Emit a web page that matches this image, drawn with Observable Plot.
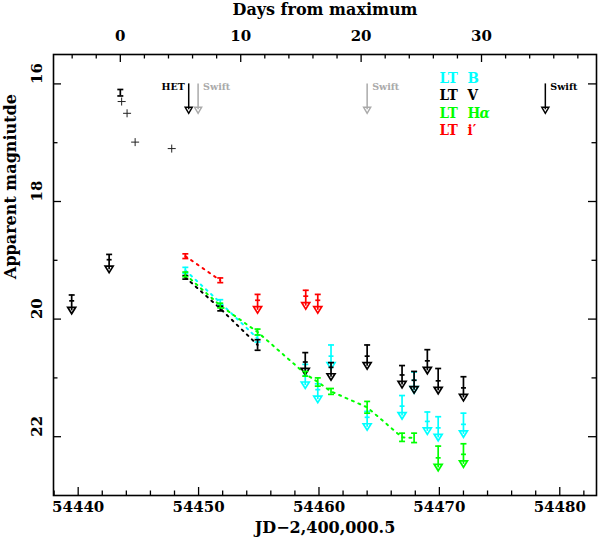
<!DOCTYPE html>
<html><head><meta charset="utf-8">
<script src="https://cdn.jsdelivr.net/npm/d3@7"></script>
<script src="https://cdn.jsdelivr.net/npm/@observablehq/plot@0.6"></script>
<style>
html,body{margin:0;padding:0;background:#fff;}
</style>
</head><body><div id="chart"></div>
<script>
// ---------------- data ----------------
const tMax = 54443.5;                     // JD of maximum (top axis zero)
const xDomain = [54437.95, 54483.05];
const yDomain = [15.5, 23];

const xMajor = [54440, 54450, 54460, 54470, 54480];
const xMinor = [54438, 54442, 54444, 54446, 54448, 54452, 54454, 54456, 54458, 54462, 54464, 54466, 54468, 54472, 54474, 54476, 54478, 54482];
const dayMajor = [0, 10, 20, 30];
const dayMinor = [-4, -2, 2, 4, 6, 8, 12, 14, 16, 18, 22, 24, 26, 28, 32, 34, 36, 38];
const yMajor = [16, 18, 20, 22];
const yMinor = [17, 19, 21];

// early unfiltered points (crosses)
const crossJD  = [54443.61, 54444.06, 54444.73, 54447.77];
const crossMag = [16.30, 16.50, 16.99, 17.10];

// peak point with error bar
const peakJD = [54443.5], peakMag = [16.15], peakErr = [0.055];

// LT detections
const bJD = [54448.9, 54451.8, 54454.9];
const bMag = [19.17, 19.72, 20.33];
const bErr = [0.05, 0.05, 0.06];

const vJD = [54448.9, 54451.8, 54454.9];
const vMag = [19.29, 19.82, 20.44];
const vErr = [0.03, 0.04, 0.09];

const haJD = [54448.9, 54451.8, 54454.9, 54458.86, 54459.9, 54461.0, 54464.0, 54466.9, 54467.9];
const haMag = [19.24, 19.77, 20.22, 20.93, 21.07, 21.23, 21.50, 22.01, 22.02];
const haErr = [0.04, 0.04, 0.05, 0.04, 0.07, 0.05, 0.10, 0.07, 0.08];

const iJD = [54448.9, 54451.8];
const iMag = [18.93, 19.34];
const iErr = [0.04, 0.04];

// LT upper limits
const bUlJD  = [54458.86, 54459.9, 54461.0, 54464.0, 54466.9, 54467.9, 54469.0, 54469.9, 54472.0];
const bUlMag = [20.96, 21.20, 20.63, 21.67, 21.48, 21.04, 21.74, 21.85, 21.79];
const bUlErr = [0.19, 0.10, 0.19, 0.10, 0.18, 0.14, 0.16, 0.19, 0.19];

const vUlJD  = [54439.46, 54442.57, 54458.86, 54461.0, 54464.0, 54466.9, 54467.9, 54469.0, 54469.9, 54472.0];
const vUlMag = [19.69, 18.99, 20.73, 20.82, 20.63, 20.95, 21.04, 20.71, 21.05, 21.17];
const vUlErr = [0.10, 0.09, 0.16, 0.08, 0.19, 0.16, 0.15, 0.19, 0.21, 0.19];

const haUlJD  = [54469.9, 54472.0];
const haUlMag = [22.36, 22.30];
const haUlErr = [0.20, 0.18];

const iUlJD  = [54454.9, 54458.9, 54459.9];
const iUlMag = [19.68, 19.61, 19.68];
const iUlErr = [0.10, 0.10, 0.10];

// other telescopes' epochs (arrows at top)
const hetJD = [54449.18];
const swiftGrayJD = [54449.96, 54464.0];
const swiftBlackJD = [54478.8];
const epochArrowTop = 16.0, epochArrowTip = 16.5, epochLabelMag = 16.06;

const legendLabels = ["B", "V", "H", "i\u2032"];
const legendColors = ["#00ffff", "#000000", "#00ff00", "#ff0000"];

// ---------------- drawing ----------------
const W = 598, H = 539, mL = 53, mR = 2, mT = 54, mB = 44;
const innerW = W - mL - mR, innerH = H - mT - mB;
const ARROW = 0.22;     // length of upper-limit arrow (mag)
const SW = 1.7;

const capSym = {draw(c){ c.moveTo(-3, 0); c.lineTo(3, 0); }};
const midSym = {draw(c){ c.moveTo(-2.5, 0); c.lineTo(2.5, 0); }};
const triSym = {draw(c){ c.moveTo(-4, -6.5); c.lineTo(4, -6.5); c.lineTo(0, 0); c.closePath(); }};
const triSym2 = {draw(c){ c.moveTo(-3.5, -6); c.lineTo(3.5, -6); c.lineTo(0, 0); c.closePath(); }};
const plusSym = {draw(c){ c.moveTo(-4, 0); c.lineTo(4, 0); c.moveTo(0, -4); c.lineTo(0, 4); }};

const rows = (jd, mag, err) => jd.map((t, i) => ({t, m: mag[i], e: err ? err[i] : 0}));

function detMarks(jd, mag, err, color) {
  const r = rows(jd, mag, err);
  return [
    Plot.ruleX(r, {x: "t", y1: d => d.m - d.e, y2: d => d.m + d.e, stroke: color, strokeWidth: SW}),
    Plot.dot(r, {x: "t", y: d => d.m - d.e, symbol: capSym, stroke: color, fill: "none", strokeWidth: SW}),
    Plot.dot(r, {x: "t", y: d => d.m + d.e, symbol: capSym, stroke: color, fill: "none", strokeWidth: SW})
  ];
}
function ulMarks(jd, mag, err, color) {
  const r = rows(jd, mag, err);
  return [
    Plot.ruleX(r, {x: "t", y1: d => d.m - d.e, y2: d => d.m + ARROW - 0.05, stroke: color, strokeWidth: SW}),
    Plot.dot(r, {x: "t", y: d => d.m - d.e, symbol: capSym, stroke: color, fill: "none", strokeWidth: SW}),
    Plot.dot(r, {x: "t", y: d => d.m, symbol: midSym, stroke: color, fill: "none", strokeWidth: SW}),
    Plot.dot(r, {x: "t", y: d => d.m + ARROW, symbol: triSym, stroke: color, fill: "none", strokeWidth: SW})
  ];
}
function lineMark(jd, mag, color) {
  return Plot.line(rows(jd, mag), {x: "t", y: "m", stroke: color, strokeWidth: 2, strokeDasharray: "2,5"});
}

const legendMarks = [];
legendLabels.forEach((lab, i) => {
  const dy = 23.3 + 17.6 * i;
  const common = {frameAnchor: "top-left", dy, textAnchor: "start", lineAnchor: "middle",
    fill: legendColors[i], fontSize: 15, fontWeight: "bold",
    fontFamily: "'DejaVu Serif Condensed','DejaVu Serif',serif"};
  legendMarks.push(Plot.text(["LT"], {...common, text: d => d, dx: 386}));
  legendMarks.push(Plot.text([lab], {...common, text: d => d, dx: 414}));
  if (lab === "H") legendMarks.push(Plot.text(["\u03b1"], {...common, text: d => d, dx: 426, fontStyle: "italic"}));
});

const K = "#000";
const plot = Plot.plot({
  width: W, height: H,
  marginLeft: mL, marginRight: mR, marginTop: mT, marginBottom: mB,
  style: {fontFamily: "'DejaVu Serif',serif", fontWeight: "bold", background: "#fff", overflow: "visible"},
  x: {domain: xDomain, axis: null},
  y: {domain: yDomain, reverse: true, axis: null},
  marks: [
    // ticks
    Plot.tickX(xMajor, {x: d => d, insetTop: innerH - 8, stroke: K, strokeWidth: 1.3}),
    Plot.tickX(xMinor, {x: d => d, insetTop: innerH - 4.5, stroke: K, strokeWidth: 1.3}),
    Plot.tickX(dayMajor, {x: d => tMax + d, insetBottom: innerH - 8, stroke: K, strokeWidth: 1.3}),
    Plot.tickX(dayMinor, {x: d => tMax + d, insetBottom: innerH - 4.5, stroke: K, strokeWidth: 1.3}),
    Plot.tickY(yMajor, {y: d => d, insetRight: innerW - 8, stroke: K, strokeWidth: 1.3}),
    Plot.tickY(yMinor, {y: d => d, insetRight: innerW - 4.5, stroke: K, strokeWidth: 1.3}),
    Plot.tickY(yMajor, {y: d => d, insetLeft: innerW - 8, stroke: K, strokeWidth: 1.3}),
    Plot.tickY(yMinor, {y: d => d, insetLeft: innerW - 4.5, stroke: K, strokeWidth: 1.3}),
    Plot.frame({stroke: K, strokeWidth: 1.6}),
    // tick labels
    Plot.text(xMajor, {x: d => d, text: d => String(d), frameAnchor: "bottom", dy: 12, lineAnchor: "middle", fontSize: 15}),
    Plot.text(dayMajor, {x: d => tMax + d, text: d => String(d), frameAnchor: "top", dy: -18, lineAnchor: "middle", fontSize: 15}),
    Plot.text(yMajor, {y: d => d, text: d => String(d), frameAnchor: "left", dx: -16, rotate: -90, lineAnchor: "middle", fontSize: 15}),
    // axis titles
    Plot.text(["Days from maximum"], {text: d => d, frameAnchor: "top", dy: -44.5, lineAnchor: "middle", fontSize: 16}),
    Plot.text(["JD\u22122,400,000.5"], {text: d => d, frameAnchor: "bottom", dy: 32, lineAnchor: "middle", fontSize: 16}),
    Plot.text(["Apparent magniutde"], {text: d => d, frameAnchor: "left", dx: -43, dy: 4, rotate: -90, lineAnchor: "middle", fontSize: 16}),
    // epoch arrows
    Plot.ruleX(hetJD, {x: d => d, y1: epochArrowTop, y2: epochArrowTip - 0.06, stroke: K, strokeWidth: 1.5}),
    Plot.dot(hetJD, {x: d => d, y: epochArrowTip, symbol: triSym2, stroke: K, fill: "none", strokeWidth: 1.5}),
    Plot.text(hetJD, {x: d => d, y: epochLabelMag, text: () => "HET", textAnchor: "end", dx: -4, fontSize: 9.5, fill: K}),
    Plot.ruleX(swiftGrayJD, {x: d => d, y1: epochArrowTop, y2: epochArrowTip - 0.06, stroke: "#aaa", strokeWidth: 1.5}),
    Plot.dot(swiftGrayJD, {x: d => d, y: epochArrowTip, symbol: triSym2, stroke: "#aaa", fill: "none", strokeWidth: 1.5}),
    Plot.text(swiftGrayJD, {x: d => d, y: epochLabelMag, text: () => "Swift", textAnchor: "start", dx: 5, fontSize: 9.5, fill: "#aaa"}),
    Plot.ruleX(swiftBlackJD, {x: d => d, y1: epochArrowTop, y2: epochArrowTip - 0.06, stroke: K, strokeWidth: 1.5}),
    Plot.dot(swiftBlackJD, {x: d => d, y: epochArrowTip, symbol: triSym2, stroke: K, fill: "none", strokeWidth: 1.5}),
    Plot.text(swiftBlackJD, {x: d => d, y: epochLabelMag, text: () => "Swift", textAnchor: "start", dx: 5, fontSize: 9.5, fill: K}),
    // early points
    Plot.dot(rows(crossJD, crossMag), {x: "t", y: "m", symbol: plusSym, stroke: "#222", fill: "none", strokeWidth: 1}),
    ...detMarks(peakJD, peakMag, peakErr, K),
    // connecting dotted lines
    lineMark(bJD, bMag, "#00ffff"),
    lineMark(vJD, vMag, K),
    lineMark(haJD, haMag, "#00ff00"),
    lineMark(iJD, iMag, "#ff0000"),
    // LT B
    ...ulMarks(bUlJD, bUlMag, bUlErr, "#00ffff"),
    ...detMarks(bJD, bMag, bErr, "#00ffff"),
    // LT V
    ...ulMarks(vUlJD, vUlMag, vUlErr, K),
    ...detMarks(vJD, vMag, vErr, K),
    // LT Halpha
    ...ulMarks(haUlJD, haUlMag, haUlErr, "#00ff00"),
    ...detMarks(haJD, haMag, haErr, "#00ff00"),
    // LT i'
    ...ulMarks(iUlJD, iUlMag, iUlErr, "#ff0000"),
    ...detMarks(iJD, iMag, iErr, "#ff0000"),
    ...legendMarks
  ]
});
document.getElementById("chart").appendChild(plot);
</script>
</body></html>
